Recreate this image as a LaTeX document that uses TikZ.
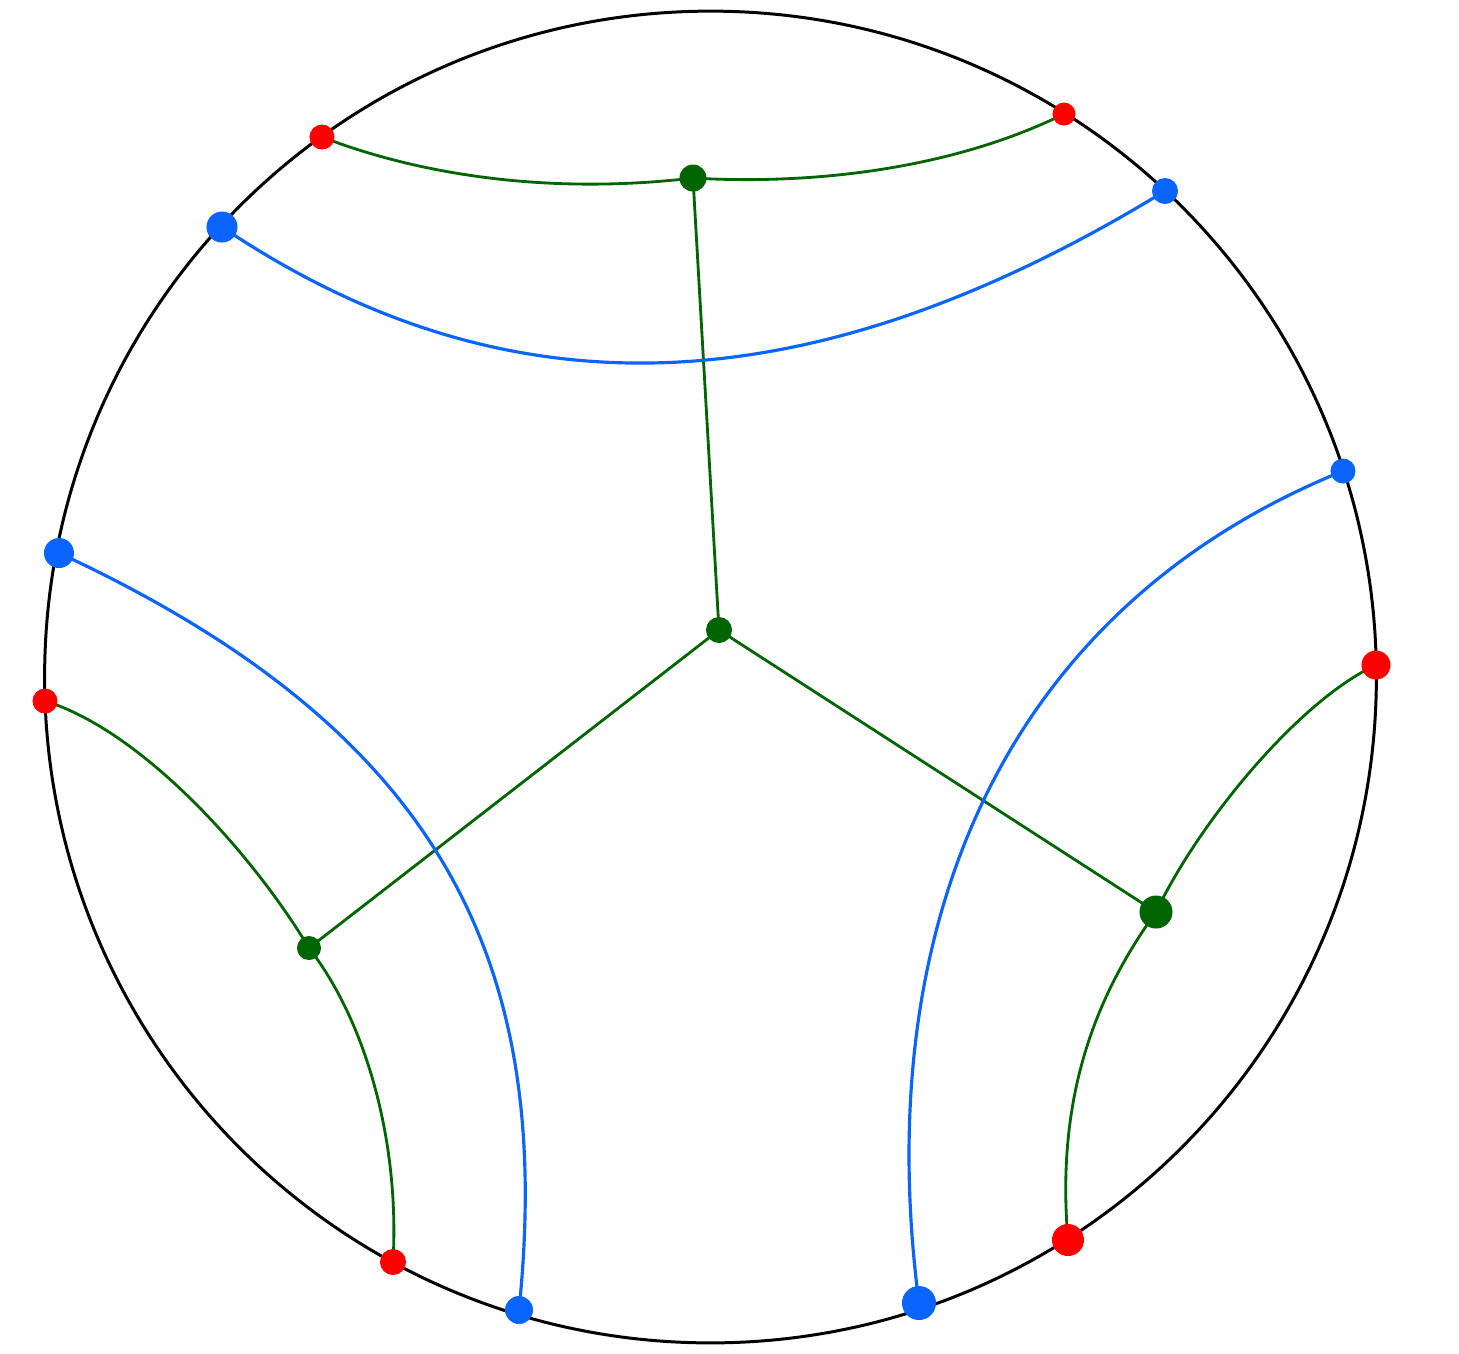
\documentclass[tikz,border=0pt]{standalone}
\definecolor{dgreen}{RGB}{0,100,0}
\definecolor{lblue}{RGB}{10,100,255}
\definecolor{pred}{RGB}{255,0,0}
\begin{document}
\begin{tikzpicture}[x=0.01cm,y=-0.01cm,
  dot/.style={circle,inner sep=0pt,outer sep=0pt,draw=none},
  rdot/.style={dot,fill=pred},
  bdot/.style={dot,fill=lblue},
  gdot/.style={dot,fill=dgreen},
  gline/.style={draw=dgreen,line width=0.8pt},
  bline/.style={draw=lblue,line width=0.9pt},
  rim/.style={draw=black,line width=0.85pt}]
\useasboundingbox (0,0) rectangle (1459,1353);
\coordinate (ctr) at (710.5,677);
\draw[rim] (ctr) circle[radius=6.655cm];
\coordinate (r1) at (322,137);
\coordinate (r2) at (1064,114);
\coordinate (r3) at (45,701);
\coordinate (r4) at (1376,665);
\coordinate (r5) at (393,1262);
\coordinate (r6) at (1068,1240);
\coordinate (b1) at (222,227);
\coordinate (b2) at (1165,191);
\coordinate (b3) at (59,553);
\coordinate (b4) at (1343,471);
\coordinate (b5) at (519,1310);
\coordinate (b6) at (919,1303);
\coordinate (g1) at (693,178);
\coordinate (g2) at (719,630);
\coordinate (g3) at (309,948);
\coordinate (g4) at (1156,912);
% green arcs
\draw[gline] (r1) .. controls (420,175) and (550,195) .. (g1);
\draw[gline] (g1) .. controls (810,185) and (950,170) .. (r2);
\draw[gline] (r3) .. controls (140,730) and (250,850) .. (g3);
\draw[gline] (g3) .. controls (365,1020) and (400,1140) .. (r5);
\draw[gline] (r4) .. controls (1300,700) and (1200,820) .. (g4);
\draw[gline] (g4) .. controls (1100,990) and (1055,1090) .. (r6);
% green straight edges
\draw[gline] (g1) -- (g2);
\draw[gline] (g2) -- (g3);
\draw[gline] (g2) -- (g4);
% blue arcs
\draw[bline] (b1) .. controls (500,414) and (800,414) .. (b2);
\draw[bline] (b3) .. controls (440,730) and (555,960) .. (b5);
\draw[bline] (b4) .. controls (1000,610) and (870,930) .. (b6);
% dots
\node[rdot,minimum size=0.25cm] (R1) at (r1) {};
\node[rdot,minimum size=0.23cm] (R2) at (r2) {};
\node[rdot,minimum size=0.25cm] (R3) at (r3) {};
\node[rdot,minimum size=0.29cm] (R4) at (r4) {};
\node[rdot,minimum size=0.26cm] (R5) at (r5) {};
\node[rdot,minimum size=0.32cm] (R6) at (r6) {};
\node[bdot,minimum size=0.31cm] (B1) at (b1) {};
\node[bdot,minimum size=0.26cm] (B2) at (b2) {};
\node[bdot,minimum size=0.30cm] (B3) at (b3) {};
\node[bdot,minimum size=0.25cm] (B4) at (b4) {};
\node[bdot,minimum size=0.28cm] (B5) at (b5) {};
\node[bdot,minimum size=0.34cm] (B6) at (b6) {};
\node[gdot,minimum size=0.27cm] (G1) at (g1) {};
\node[gdot,minimum size=0.26cm] (G2) at (g2) {};
\node[gdot,minimum size=0.24cm] (G3) at (g3) {};
\node[gdot,minimum size=0.33cm] (G4) at (g4) {};
\end{tikzpicture}
\end{document}
